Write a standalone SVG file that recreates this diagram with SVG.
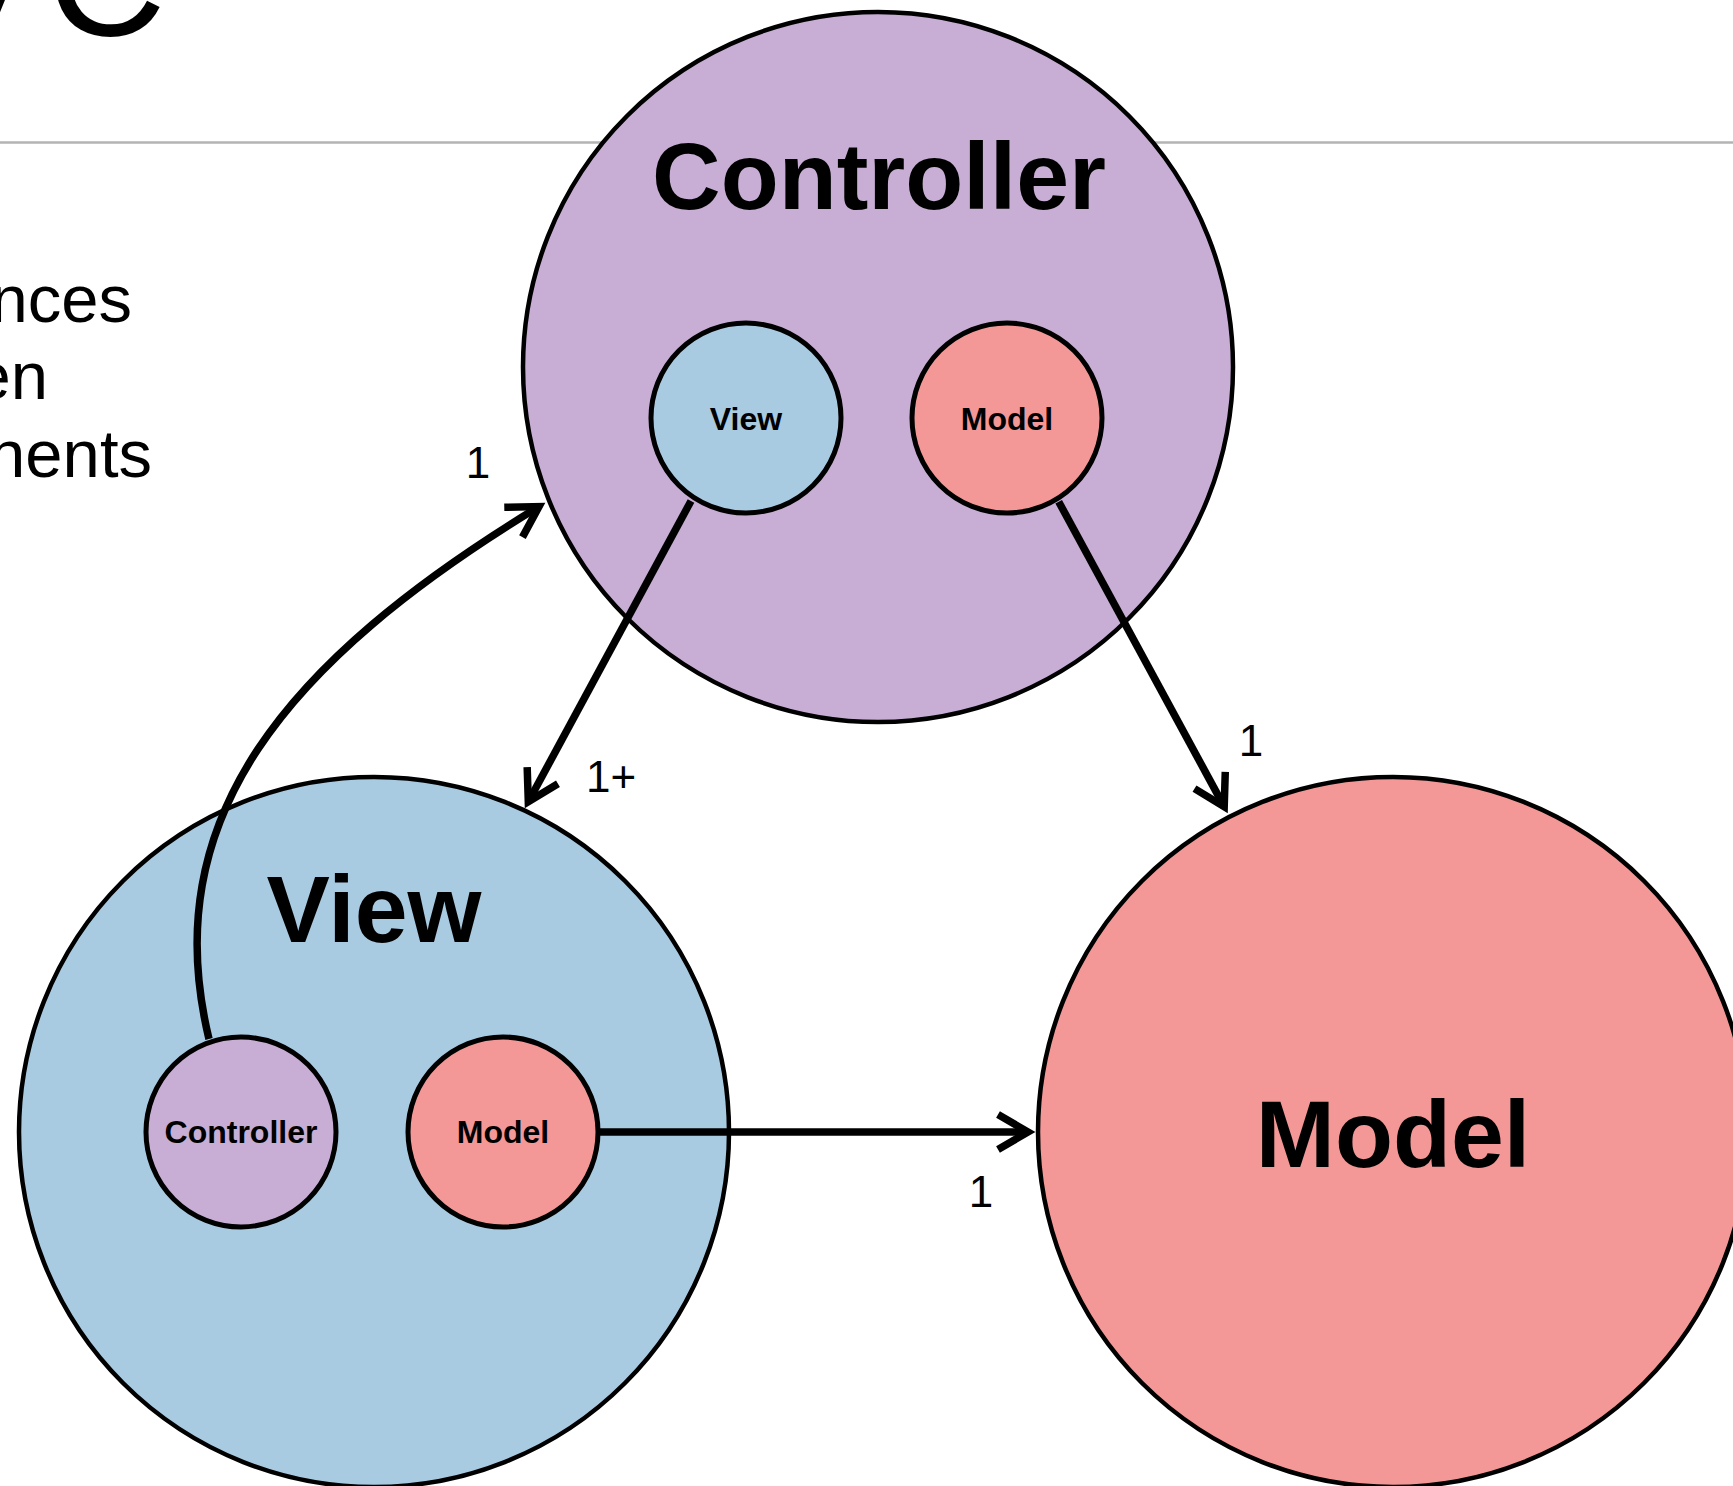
<svg xmlns="http://www.w3.org/2000/svg" width="1733" height="1486" viewBox="0 0 1733 1486">
<style>
.bg{fill:#ffffff}
.ctrl{fill:#c8aed5;stroke:#000}
.view{fill:#a9cbe2;stroke:#000}
.model{fill:#f39896;stroke:#000}
.bigc{stroke-width:4.5}
.smallc{stroke-width:5}
.big{font-family:"Liberation Sans",Arial,Helvetica,sans-serif;font-weight:bold;font-size:95px;text-anchor:middle;fill:#000}
.small{font-family:"Liberation Sans",Arial,Helvetica,sans-serif;font-weight:bold;font-size:32px;text-anchor:middle;fill:#000}
.mult{font-family:"Liberation Sans",Arial,Helvetica,sans-serif;font-size:44px;text-anchor:middle;fill:#000}
.body{font-family:"Liberation Sans",Arial,Helvetica,sans-serif;font-size:67px;text-anchor:end;fill:#000}
.title{font-family:"Liberation Sans",Arial,Helvetica,sans-serif;font-size:165px;text-anchor:end;fill:#000}
.conn{fill:none;stroke:#000;stroke-width:7.5}
</style>
<defs>
<marker id="arrow" markerUnits="userSpaceOnUse" markerWidth="90" markerHeight="90" viewBox="-45 -45 90 90" refX="0" refY="0" orient="auto" overflow="visible">
<path d="M-30,-17.5 L0,0 L-30,17.5" fill="none" stroke="#000" stroke-width="7.5" stroke-linejoin="miter"/>
</marker>
</defs>
<rect class="bg" x="0" y="0" width="1733" height="1486"/>
<g id="slide-background">
<text class="title" x="166" y="35">MV<tspan dx="9">C</tspan></text>
<line x1="0" y1="142.5" x2="1733" y2="142.5" stroke="#b3b3b3" stroke-width="2.5"/>
<text class="body" x="132" y="322">nces</text>
<text class="body" x="48" y="399">en</text>
<text class="body" x="152" y="477">nents</text>
</g>
<g id="node-controller">
<circle class="ctrl bigc" cx="878" cy="367" r="355"/>
<text class="big" x="879" y="209">Controller</text>
</g>
<g id="node-controller-view">
<circle class="view smallc" cx="746" cy="418" r="95"/>
<text class="small" x="746" y="430">View</text>
</g>
<g id="node-controller-model">
<circle class="model smallc" cx="1007" cy="418" r="95"/>
<text class="small" x="1007" y="430">Model</text>
</g>
<g id="node-view">
<circle class="view bigc" cx="374" cy="1132" r="355"/>
<text class="big" x="374" y="942">View</text>
</g>
<g id="node-view-controller">
<circle class="ctrl smallc" cx="241" cy="1132" r="95"/>
<text class="small" x="241" y="1143">Controller</text>
</g>
<g id="node-view-model">
<circle class="model smallc" cx="503" cy="1132" r="95"/>
<text class="small" x="503" y="1143">Model</text>
</g>
<g id="node-model">
<circle class="model bigc" cx="1393" cy="1132" r="355"/>
<text class="big" x="1393" y="1167">Model</text>
</g>
<g id="connectors">
<line class="conn" x1="691" y1="501" x2="528.3" y2="801.8" marker-end="url(#arrow)"/>
<line class="conn" x1="1058.7" y1="501.7" x2="1224.2" y2="806.6" marker-end="url(#arrow)"/>
<line class="conn" x1="597" y1="1132" x2="1028" y2="1132" marker-end="url(#arrow)"/>
<path class="conn" d="M209,1039 C156,820 282.5,662.6 539,506.6" marker-end="url(#arrow)"/>
<text class="mult" x="478" y="478">1</text>
<text class="mult" x="611" y="792">1+</text>
<text class="mult" x="1251" y="756">1</text>
<text class="mult" x="981" y="1207">1</text>
</g>
</svg>
